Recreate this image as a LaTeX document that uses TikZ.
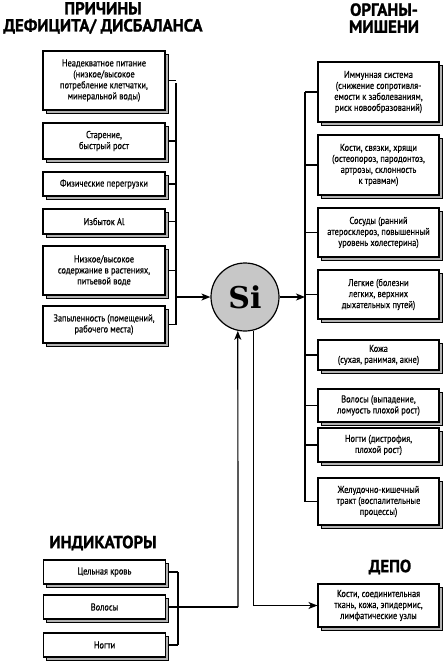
\documentclass[tikz,border=0pt]{standalone}
\usepackage{fontspec}
\setmainfont[FakeStretch=0.84,FakeBold=0.4]{PT Sans}
\newfontfamily\titlefont[FakeStretch=0.96,FakeBold=1.2]{PT Sans}
\newfontfamily\sifont{DejaVu Serif}
\usetikzlibrary{arrows.meta,shadows}
\tikzset{
  box/.style={draw=black, line width=1.1pt, fill=white, align=center, inner sep=0pt,
    font=\fontsize{10}{11}\selectfont,
    copy shadow={shadow xshift=3pt, shadow yshift=-3pt, fill=black!30, draw=black, line width=0.8pt}},
  lbox/.style={box, minimum width=122pt},
  rbox/.style={box, minimum width=121pt},
  ttl/.style={font=\titlefont\bfseries\fontsize{17.5}{17}\selectfont, align=center, inner sep=0pt},
  conn/.style={line width=1.2pt},
  arr/.style={line width=1.2pt, -{Stealth[length=9pt,width=7pt,inset=2.5pt]}}
}
\begin{document}
\begin{tikzpicture}[x=1pt,y=-1pt]
\useasboundingbox (0,0) rectangle (445,662);
% titles
\node[ttl] (t1) at (103,18) {ПРИЧИНЫ\\ДЕФИЦИТА/ ДИСБАЛАНСА};
\node[ttl] (t2) at (384,18) {ОРГАНЫ-\\МИШЕНИ};
\node[ttl] (t3) at (103,543) {ИНДИКАТОРЫ};
\node[ttl] (t4) at (390,567) {ДЕПО};
% left boxes
\node[lbox, minimum height=59pt] (L1) at (104,80.5) {Неадекватное питание\\(низкое/высокое\\потребление клетчатки,\\минеральной воды)};
\node[lbox, minimum height=36pt] (L2) at (104,141) {Старение,\\быстрый рост};
\node[lbox, minimum height=24pt] (L3) at (104,184) {Физические перегрузки};
\node[lbox, minimum height=25pt] (L4) at (104,221.5) {Избыток Al};
\node[lbox, minimum height=49pt] (L5) at (104,270.5) {Низкое/высокое\\содержание в растениях,\\питьевой воде};
\node[lbox, minimum height=37pt] (L6) at (104,324.5) {Запыленность (помещений,\\рабочего места)};
% right boxes
\node[rbox, minimum height=60pt] (R1) at (378.5,92) {Иммунная система\\(снижение сопротивля-\\емости к заболеваниям,\\риск новообразований)};
\node[rbox, minimum height=60pt] (R2) at (378.5,165) {Кости, связки, хрящи\\(остеопороз, пародонтоз,\\артрозы, склонность\\к травмам)};
\node[rbox, minimum height=49pt] (R3) at (378.5,232.5) {Сосуды (ранний\\атеросклероз, повышенный\\уровень холестерина)};
\node[rbox, minimum height=49pt] (R4) at (378.5,294.5) {Легкие (болезни\\легких, верхних\\дыхательных путей)};
\node[rbox, minimum height=30pt] (R5) at (378.5,355) {Кожа\\(сухая, ранимая, акне)};
\node[rbox, minimum height=33pt] (R6) at (378.5,405.5) {Волосы (выпадение,\\ломуость плохой рост)};
\node[rbox, minimum height=34pt] (R7) at (378.5,445) {Ногти (дистрофия,\\плохой рост)};
\node[rbox, minimum height=47pt] (R8) at (378.5,501.5) {Желудочно-кишечный\\тракт (воспалительные\\процессы)};
\node[rbox, minimum height=43pt] (D) at (378.5,605.5) {Кости, соединительная\\ткань, кожа, эпидермис,\\лимфатические узлы};
% indicator boxes
\node[lbox, minimum height=24pt] (I1) at (104.5,572) {Цельная кровь};
\node[lbox, minimum height=24pt] (I2) at (104.5,607) {Волосы};
\node[lbox, minimum height=24pt] (I3) at (104.5,645) {Ногти};
% Si
\node[circle, draw=black, line width=1.2pt, fill=black!22, minimum size=68pt, inner sep=0pt,
  font=\sifont\bfseries\fontsize{30}{30}\selectfont] (si) at (245,297) {Si};
% left bus
\coordinate (lb1) at (176,83);
\coordinate (lb6) at (176,325);
\coordinate (lbm) at (176,297);
\draw[conn] (lb1) -- (lb6);
\foreach \n in {L1,L2,L3,L4,L5,L6} \draw[conn] ([xshift=3pt]\n.east) -- (\n.east -| lb1);
\draw[arr] (lbm) -- (si.west);
% right bus
\coordinate (rb1) at (305,92);
\coordinate (rb8) at (305,501.5);
\coordinate (rbm) at (305,297);
\draw[conn] (rb1) -- (rb8);
\foreach \n in {R1,R2,R3,R4,R5,R6,R7,R8} \draw[conn] (\n.west -| rb1) -- (\n.west);
\draw[arr] (si.east) -- (rbm);
% indicators bus
\coordinate (ib1) at (178,572);
\coordinate (ib3) at (178,645);
\draw[conn] (ib1) -- (ib3);
\foreach \n in {I1,I2,I3} \draw[conn] ([xshift=3pt]\n.east) -- (\n.east -| ib1);
\coordinate (up) at (238,607);
\draw[conn] ([xshift=3pt]I2.east) -- (up);
\draw[arr] (up) -- (si.258);
% depot
\draw[arr] (si.284) |- (D.west);
\end{tikzpicture}
\end{document}
